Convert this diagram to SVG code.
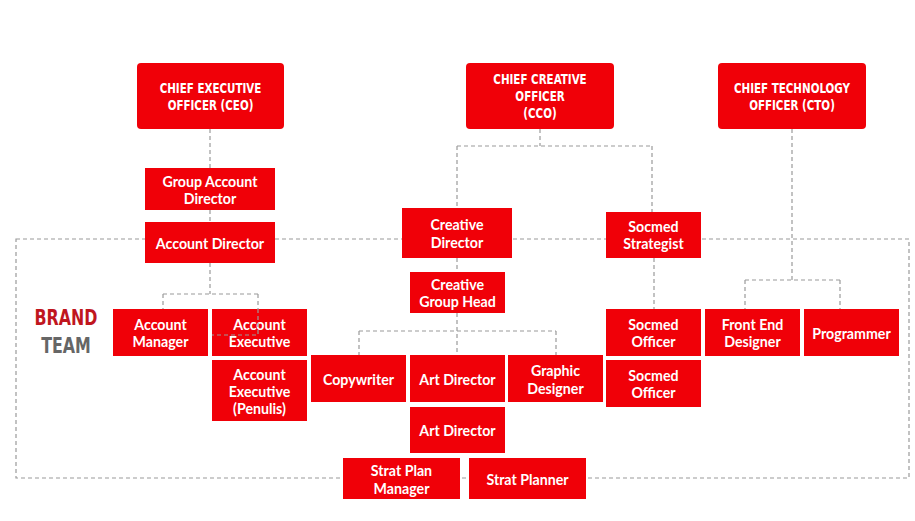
<svg xmlns="http://www.w3.org/2000/svg" width="915" height="521" viewBox="0 0 915 521">
<style>
.box{fill:#f00008}
.exec{fill:#fff;font-family:"DejaVu Sans Condensed","DejaVu Sans",sans-serif;font-weight:bold;font-size:14px;text-anchor:middle;dominant-baseline:central}
.t{fill:#fff;font-family:Lato,"Liberation Sans",sans-serif;font-weight:bold;font-size:14.2px;text-anchor:middle;dominant-baseline:central}
.c{fill:none;stroke:#9a9a9a;stroke-width:1.2;stroke-dasharray:4 3}
.lbl{font-family:"DejaVu Sans Condensed","DejaVu Sans",sans-serif;font-weight:bold;font-size:22px;text-anchor:middle;dominant-baseline:central}
</style>
<rect width="915" height="521" fill="#fff"/>
<g id="brand-team">
<rect class="c" x="16" y="239" width="893" height="239"/>
<text class="lbl" transform="translate(66 318) scale(0.8 1)" fill="#c0161e">BRAND</text>
<text class="lbl" transform="translate(66 346) scale(0.8 1)" fill="#666">TEAM</text>
</g>
<g id="connectors">
<path class="c" d="M210 129V168M210 210V222M210 263V294M163 294H258M163 294V309M258 294V309"/>
<path class="c" d="M540 129V146M457 146H652M457 146V208M652 146V212M457 258V272M457 313V355M359 331H556M359 331V355M556 331V355M654 258V309"/>
<path class="c" d="M792 129V280M745 280H840M745 280V309M840 280V309"/>
</g>
<g id="ceo"><rect class="box" x="137" y="63" width="147" height="66" rx="4"/><text class="exec" transform="translate(210.5 88) scale(0.82 1)">CHIEF EXECUTIVE</text><text class="exec" transform="translate(210.5 105) scale(0.82 1)">OFFICER (CEO)</text></g>
<g id="cco"><rect class="box" x="466" y="63" width="148" height="66" rx="4"/><text class="exec" transform="translate(540 79) scale(0.82 1)">CHIEF CREATIVE</text><text class="exec" transform="translate(540 96) scale(0.82 1)">OFFICER</text><text class="exec" transform="translate(540 113) scale(0.82 1)">(CCO)</text></g>
<g id="cto"><rect class="box" x="718" y="63" width="148" height="66" rx="4"/><text class="exec" transform="translate(792 88) scale(0.82 1)">CHIEF TECHNOLOGY</text><text class="exec" transform="translate(792 105) scale(0.82 1)">OFFICER (CTO)</text></g>
<g id="group-account-director"><rect class="box" x="145" y="168" width="130" height="42"/><text class="t" x="210" y="181">Group Account</text><text class="t" x="210" y="198">Director</text></g>
<g id="account-director"><rect class="box" x="145" y="222" width="130" height="41"/><text class="t" x="210" y="243">Account Director</text></g>
<g id="account-manager"><rect class="box" x="113" y="309" width="95" height="47"/><text class="t" x="160.5" y="324">Account</text><text class="t" x="160.5" y="341">Manager</text></g>
<g id="account-executive"><rect class="box" x="212" y="309" width="95" height="47"/><text class="t" x="259.5" y="324">Account</text><text class="t" x="259.5" y="341">Executive</text></g>
<g id="account-executive-penulis"><rect class="box" x="212" y="360" width="95" height="61"/><text class="t" x="259.5" y="374">Account</text><text class="t" x="259.5" y="391">Executive</text><text class="t" x="259.5" y="408">(Penulis)</text></g>
<g id="creative-director"><rect class="box" x="402" y="208" width="110" height="50"/><text class="t" x="457" y="224">Creative</text><text class="t" x="457" y="242">Director</text></g>
<g id="creative-group-head"><rect class="box" x="410" y="272" width="95" height="41"/><text class="t" x="457.5" y="284">Creative</text><text class="t" x="457.5" y="301">Group Head</text></g>
<g id="copywriter"><rect class="box" x="311" y="355" width="95" height="47"/><text class="t" x="358.5" y="379">Copywriter</text></g>
<g id="art-director-1"><rect class="box" x="410" y="355" width="95" height="47"/><text class="t" x="457.5" y="379">Art Director</text></g>
<g id="graphic-designer"><rect class="box" x="508" y="355" width="95" height="47"/><text class="t" x="555.5" y="370">Graphic</text><text class="t" x="555.5" y="388">Designer</text></g>
<g id="art-director-2"><rect class="box" x="410" y="407" width="95" height="46"/><text class="t" x="457.5" y="430">Art Director</text></g>
<g id="strat-plan-manager"><rect class="box" x="343" y="458" width="117" height="41"/><text class="t" x="401.5" y="470">Strat Plan</text><text class="t" x="401.5" y="488">Manager</text></g>
<g id="strat-planner"><rect class="box" x="469" y="458" width="117" height="41"/><text class="t" x="527.5" y="479">Strat Planner</text></g>
<g id="socmed-strategist"><rect class="box" x="606" y="212" width="95" height="46"/><text class="t" x="653.5" y="226">Socmed</text><text class="t" x="653.5" y="243">Strategist</text></g>
<g id="socmed-officer-1"><rect class="box" x="606" y="309" width="95" height="47"/><text class="t" x="653.5" y="324">Socmed</text><text class="t" x="653.5" y="341">Officer</text></g>
<g id="socmed-officer-2"><rect class="box" x="606" y="360" width="95" height="47"/><text class="t" x="653.5" y="375">Socmed</text><text class="t" x="653.5" y="392">Officer</text></g>
<g id="front-end-designer"><rect class="box" x="705" y="309" width="95" height="47"/><text class="t" x="752.5" y="324">Front End</text><text class="t" x="752.5" y="341">Designer</text></g>
<g id="programmer"><rect class="box" x="804" y="309" width="95" height="47"/><text class="t" x="851.5" y="333">Programmer</text></g>
<path class="c" d="M258 309V335H212" stroke="#d8d8d8"/>
</svg>
